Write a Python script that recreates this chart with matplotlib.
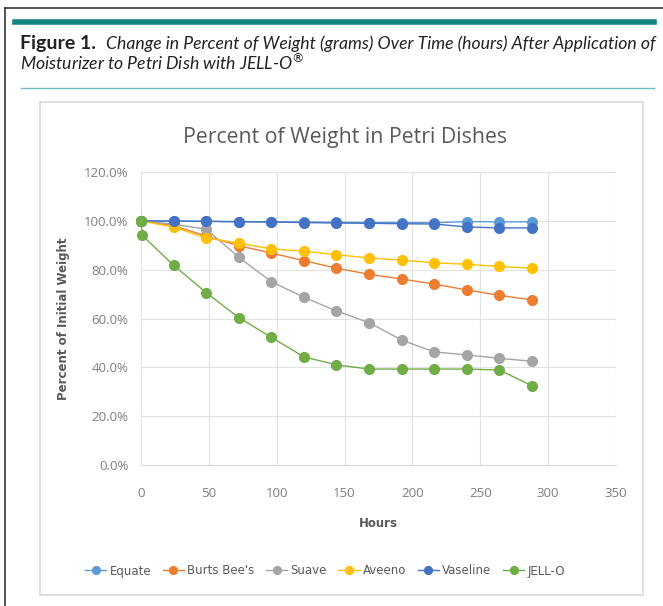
import matplotlib.pyplot as plt
from matplotlib.lines import Line2D
from matplotlib.patches import Rectangle
from matplotlib.ticker import FuncFormatter

hours = [0, 24, 48, 72, 96, 120, 144, 168, 192, 216, 240, 264, 288]
jello_hours = [0, 1, 24, 48, 72, 96, 120, 144, 168, 192, 216, 240, 264, 288]

equate = [100, 99.9, 99.8, 99.7, 99.6, 99.5, 99.4, 99.3, 99.3, 99.2, 99.7, 99.6, 99.6]
burts = [100, 98.0, 93.8, 89.8, 86.8, 83.7, 80.6, 78.1, 76.2, 74.1, 71.7, 69.5, 67.6]
suave = [100, 98.6, 96.6, 85.1, 75.1, 68.7, 63.1, 58.3, 51.2, 46.3, 45.1, 43.7, 42.5]
aveeno = [100, 97.4, 93.0, 90.9, 88.5, 87.6, 86.1, 84.8, 83.9, 82.8, 82.2, 81.3, 80.6]
vaseline = [100, 99.9, 99.8, 99.6, 99.5, 99.3, 99.1, 99.0, 98.8, 98.7, 97.5, 97.1, 97.1]
jello = [100, 94.0, 81.8, 70.6, 60.4, 52.3, 44.3, 41.0, 39.3, 39.3, 39.3, 39.3, 38.9, 32.5]

names = ["Equate", "Burts Bee's", "Suave", "Aveeno", "Vaseline", "JELL-O"]
colors = ["#5B9BD5", "#ED7D31", "#A5A5A5", "#FFC000", "#4472C4", "#70AD47"]

fig = plt.figure(figsize=(6.63, 6.06), dpi=100)
W, H = 663, 606

def fx(px):
    return px / W

def fy(py):
    return 1 - py / H

# page frame and caption
fig.add_artist(Line2D([fx(5), fx(5)], [fy(8), 0], color="#333333", lw=1.2))
fig.add_artist(Line2D([fx(5), 1], [fy(8), fy(8)], color="#333333", lw=1.2))
fig.add_artist(Line2D([fx(15), fx(654)], [fy(22), fy(22)], color="#138484", lw=4))
fig.add_artist(Line2D([fx(21), fx(654)], [fy(88), fy(88)], color="#6cc0c0", lw=1))
fig.text(fx(20), fy(44), "Figure 1.", fontsize=14, fontweight="bold",
         family="Lato", va="center", color="#222222")
fig.text(fx(106), fy(44), "Change in Percent of Weight (grams) Over Time (hours) After Application of",
         fontsize=12.7, style="italic", family="Lato", va="center", color="#222222")
fig.text(fx(20), fy(63), "Moisturizer to Petri Dish with JELL-O$^{\\circledR}$",
         fontsize=12.7, style="italic", family="Lato", va="center", color="#222222")

# chart box
fig.add_artist(Rectangle((fx(40), fy(595)), fx(643) - fx(40), fy(102) - fy(595),
                         fill=False, edgecolor="#d9d9d9", lw=1.2))

ax = fig.add_axes([fx(141), fy(465), fx(616) - fx(141), fy(172) - fy(465)])
series = [equate, burts, suave, aveeno, vaseline]
for vals, name, c in zip(series, names[:5], colors[:5]):
    ax.plot(hours, vals, color=c, lw=1, marker="o", ms=7, label=name, clip_on=False)
ax.plot(jello_hours, jello, color=colors[5], lw=1, marker="o", ms=7, label=names[5], clip_on=False)

ax.set_xlim(0, 350)
ax.set_ylim(0, 120)
ax.set_xticks(range(0, 351, 50))
ax.set_yticks(range(0, 121, 20))
ax.yaxis.set_major_formatter(FuncFormatter(lambda v, p: f"{v:.1f}%"))
ax.grid(True, color="#e3e3e3", lw=0.8)
ax.set_axisbelow(True)
for s in ["top", "right", "left"]:
    ax.spines[s].set_visible(False)
ax.spines["bottom"].set_color("#d9d9d9")
ax.tick_params(length=0, labelsize=9.5, labelcolor="#7f7f7f", pad=9)
ax.tick_params(axis="x", pad=16)
for lab in ax.get_xticklabels() + ax.get_yticklabels():
    lab.set_family("Open Sans")

ax.set_xlabel("Hours", fontsize=8.5, fontweight="bold", color="#595959", labelpad=12)
ax.set_ylabel("Percent of Initial Weight", fontsize=8.5, fontweight="bold", color="#595959", labelpad=10)

fig.text(fx(345), fy(138), "Percent of Weight in Petri Dishes", fontsize=15.3,
         color="#595959", ha="center", va="center", family="Open Sans")

handles, labels = ax.get_legend_handles_labels()
fig.legend(handles, labels, loc="center", bbox_to_anchor=(fx(325), fy(571)), ncol=6,
           frameon=False, fontsize=8.5, labelcolor="#595959", handlelength=1.8,
           handletextpad=0.25, columnspacing=1.0, markerscale=0.8)

plt.savefig("out.png", dpi=100)
